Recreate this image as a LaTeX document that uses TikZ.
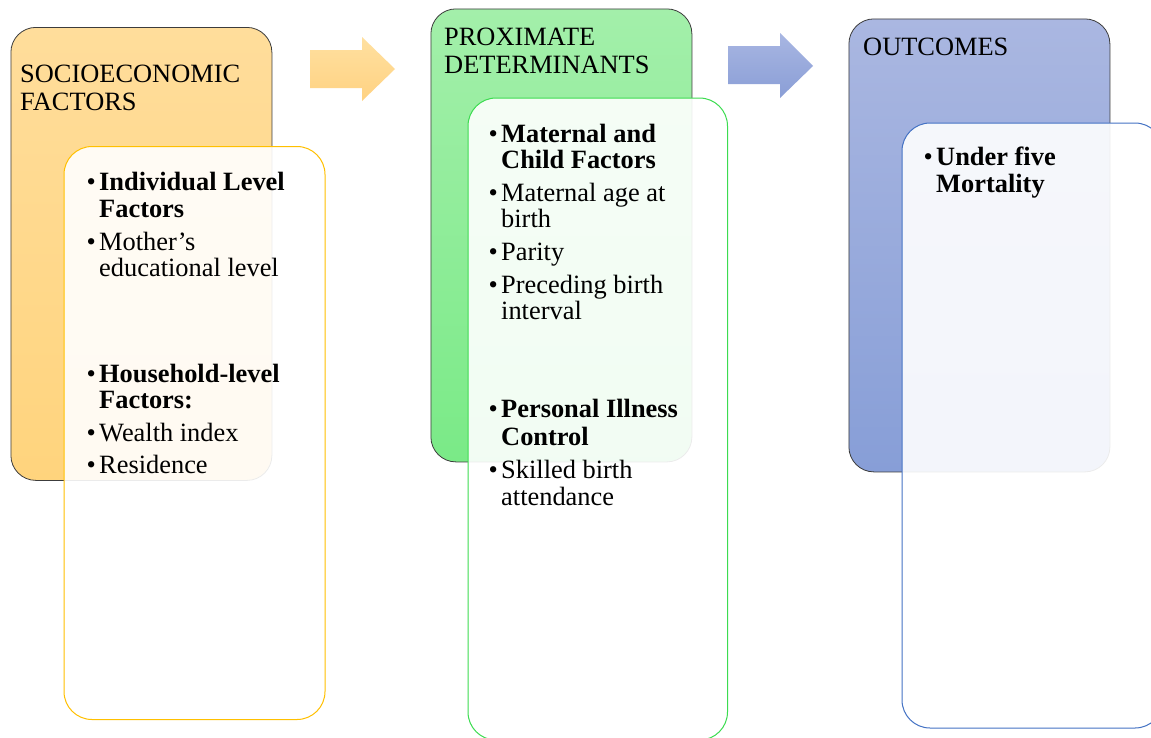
\documentclass[tikz,border=0pt]{standalone}
\usepackage{fontspec}
\setmainfont{Liberation Serif}
\definecolor{orTop}{RGB}{255,221,155}
\definecolor{orBot}{RGB}{255,212,125}
\definecolor{grTop}{RGB}{163,239,170}
\definecolor{grBot}{RGB}{122,234,135}
\definecolor{blTop}{RGB}{170,183,225}
\definecolor{blBot}{RGB}{135,158,215}
\definecolor{orLine}{RGB}{255,192,0}
\definecolor{grLine}{RGB}{60,220,80}
\definecolor{blLine}{RGB}{68,114,196}
\definecolor{boxEdge}{RGB}{60,60,60}
\definecolor{arOrTop}{RGB}{255,224,160}
\definecolor{arOrBot}{RGB}{255,210,130}
\definecolor{arBlTop}{RGB}{168,182,226}
\definecolor{arBlBot}{RGB}{138,158,214}
\tikzset{
  bigbox/.style={draw=boxEdge, line width=0.8pt, rounded corners=25pt, anchor=north west,
    minimum width=261pt, minimum height=453pt, inner sep=0pt},
  innerbox/.style={fill=white, fill opacity=0.9, line width=1pt, rounded corners=28pt,
    anchor=north west, minimum width=261pt, inner sep=0pt},
  txt/.style={anchor=base west, inner sep=0pt, font=\fontsize{26.4}{28}\selectfont},
  btxt/.style={anchor=base west, inner sep=0pt, font=\fontsize{26.4}{28}\selectfont\bfseries},
}
\begin{document}
\begin{tikzpicture}[x=1pt,y=-1pt]
\useasboundingbox (0,0) rectangle (1151,737);
\clip (0,0) rectangle (1151,737);
\fill[white] (0,0) rectangle (1151,737);

% block arrows
\path[top color=arOrTop, bottom color=arOrBot]
  (310,50) -- (362,50) -- (362,37) -- (395,69) -- (362,101) -- (362,88) -- (310,88) -- cycle;
\path[top color=arBlTop, bottom color=arBlBot]
  (728,46) -- (780,46) -- (780,33) -- (813,66) -- (780,98) -- (780,84) -- (728,84) -- cycle;

% big boxes
\node[bigbox, top color=orTop, bottom color=orBot] (soc) at (10.5,27) {};
\node[bigbox, top color=grTop, bottom color=grBot] (prox) at (430.5,8.5) {};
\node[bigbox, top color=blTop, bottom color=blBot] (out) at (848.5,18.5) {};

% inner boxes
\node[innerbox, draw=orLine, minimum height=573pt] (socin) at (63.5,146) {};
\node[innerbox, draw=grLine, minimum height=642pt, minimum width=259.5pt] (proxin) at (467.5,97.5) {};
\node[innerbox, draw=blLine, minimum height=605pt] (outin) at (901.5,122.5) {};

% titles
\node[txt] (t1) at (20,82) {SOCIOECONOMIC};
\node[txt] (t2) at (20,110) {FACTORS};
\node[txt] (t3) at (444,45) {PROXIMATE};
\node[txt] (t4) at (444,73) {DETERMINANTS};
\node[txt] (t5) at (863,55) {OUTCOMES};

% socioeconomic list
\node[txt] (sb1) at (86.5,190) {\textbullet};
\node[btxt] (s1) at (99,190) {Individual Level};
\node[btxt] (s2) at (99,217) {Factors};
\node[txt] (sb2) at (86.5,250) {\textbullet};
\node[txt] (s3) at (99,250) {Mother’s};
\node[txt] (s4) at (99,276) {educational level};
\node[txt] (sb3) at (86.5,382) {\textbullet};
\node[btxt] (s5) at (99,382) {Household-level};
\node[btxt] (s6) at (99,408) {Factors:};
\node[txt] (sb4) at (86.5,441) {\textbullet};
\node[txt] (s7) at (99,441) {Wealth index};
\node[txt] (sb5) at (86.5,473) {\textbullet};
\node[txt] (s8) at (99,473) {Residence};

% proximate list
\node[txt] (pb1) at (488.5,142) {\textbullet};
\node[btxt] (p1) at (501,142) {Maternal and};
\node[btxt] (p2) at (501,168) {Child Factors};
\node[txt] (pb2) at (488.5,201) {\textbullet};
\node[txt] (p3) at (501,201) {Maternal age at};
\node[txt] (p4) at (501,227) {birth};
\node[txt] (pb3) at (488.5,260) {\textbullet};
\node[txt] (p5) at (501,260) {Parity};
\node[txt] (pb4) at (488.5,293) {\textbullet};
\node[txt] (p6) at (501,293) {Preceding birth};
\node[txt] (p7) at (501,319) {interval};
\node[txt] (pb5) at (488.5,417) {\textbullet};
\node[btxt] (p8) at (501,417) {Personal Illness};
\node[btxt] (p9) at (501,445) {Control};
\node[txt] (pb6) at (488.5,478) {\textbullet};
\node[txt] (p10) at (501,478) {Skilled birth};
\node[txt] (p11) at (501,505) {attendance};

% outcomes list
\node[txt] (ob1) at (923.5,165) {\textbullet};
\node[btxt] (o1) at (936,165) {Under five};
\node[btxt] (o2) at (936,192) {Mortality};
\end{tikzpicture}
\end{document}
